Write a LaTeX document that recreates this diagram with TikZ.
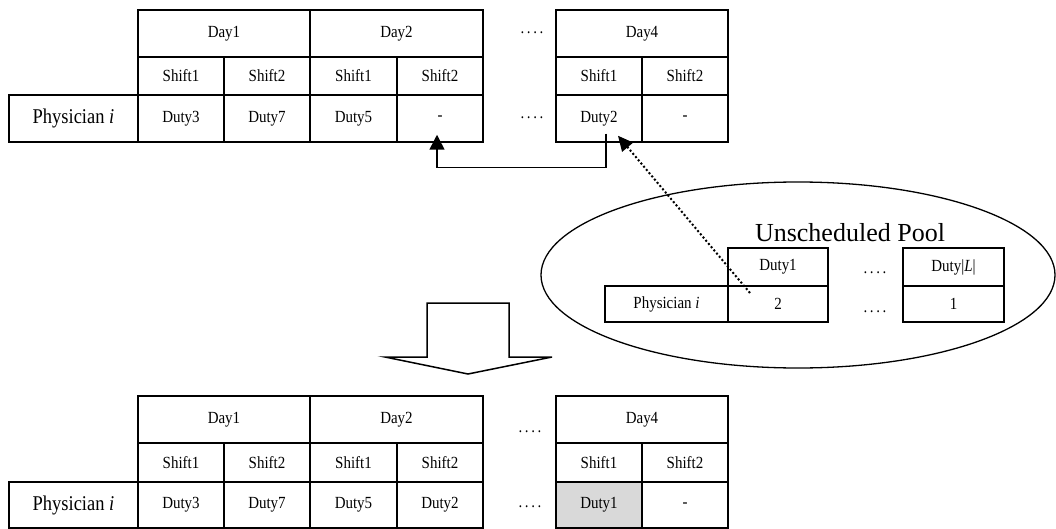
\documentclass[tikz,border=0pt]{standalone}
\usepackage{fontspec}
\setmainfont{Liberation Serif}
\newfontfamily\tabfont[FakeStretch=0.88]{Liberation Serif}
\usetikzlibrary{arrows.meta,calc}
\newcommand\smallf{\tabfont\fontsize{17}{20}\selectfont}
\newcommand\bigf{\tabfont\fontsize{21}{24}\selectfont}
\newcommand\fourdots{.\kern2.6pt.\kern2.6pt.\kern2.6pt.}
\begin{document}
\begin{tikzpicture}[x=1pt,y=-1pt,
  cell/.style={draw,line width=1.5pt,inner sep=0pt,font=\smallf},
  phys/.style={cell,font=\bigf,minimum width=129,minimum height=47},
  dayc/.style={cell,minimum width=172,minimum height=47},
  shiftc/.style={cell,minimum width=86,minimum height=38},
  dutyc/.style={cell,minimum width=86,minimum height=47},
  dots/.style={inner sep=0pt,font=\smallf},
  pcell/.style={cell,minimum width=100,minimum height=36},
  arr/.style={line width=1.5pt,-{Triangle[width=15pt,length=15pt]}},
  dotarr/.style={line width=2pt,dash pattern=on 2pt off 2.2pt,-{Triangle[width=14pt,length=15pt]}}
]
\useasboundingbox (0,0) rectangle (1056,529);

% ---------- top table ----------
\node[phys] (tph) at (73.5,118.5) {Physician \textit{i}};
\node[dayc] (td1) at (224,33.5) {Day1};
\node[dayc,minimum width=173] (td2) at (396.5,33.5) {Day2};
\node[dayc] (td4) at (642,33.5) {Day4};
\node[shiftc] (ts1) at (181,76) {Shift1};
\node[shiftc] (ts2) at (267,76) {Shift2};
\node[shiftc,minimum width=87] (ts3) at (353.5,76) {Shift1};
\node[shiftc] (ts4) at (440,76) {Shift2};
\node[shiftc] (ts7) at (599,76) {Shift1};
\node[shiftc] (ts8) at (685,76) {Shift2};
\node[dutyc] (tv1) at (181,118.5) {Duty3};
\node[dutyc] (tv2) at (267,118.5) {Duty7};
\node[dutyc,minimum width=87] (tv3) at (353.5,118.5) {Duty5};
\node[dutyc] (tv4) at (440,118.5) {-};
\node[dutyc] (tv7) at (599,118.5) {Duty2};
\node[dutyc] (tv8) at (685,118.5) {-};
\node[dots] (tdotsa) at (532,33) {\fourdots};
\node[dots] (tdotsb) at (532,118) {\fourdots};

% ---------- bottom table ----------
\node[phys,minimum height=46] (bph) at (73.5,505) {Physician \textit{i}};
\node[dayc] (bd1) at (224,419.5) {Day1};
\node[dayc,minimum width=173] (bd2) at (396.5,419.5) {Day2};
\node[dayc] (bd4) at (642,419.5) {Day4};
\node[shiftc,minimum height=39] (bs1) at (181,462.5) {Shift1};
\node[shiftc,minimum height=39] (bs2) at (267,462.5) {Shift2};
\node[shiftc,minimum height=39,minimum width=87] (bs3) at (353.5,462.5) {Shift1};
\node[shiftc,minimum height=39] (bs4) at (440,462.5) {Shift2};
\node[shiftc,minimum height=39] (bs7) at (599,462.5) {Shift1};
\node[shiftc,minimum height=39] (bs8) at (685,462.5) {Shift2};
\node[dutyc,minimum height=46] (bv1) at (181,505) {Duty3};
\node[dutyc,minimum height=46] (bv2) at (267,505) {Duty7};
\node[dutyc,minimum height=46,minimum width=87] (bv3) at (353.5,505) {Duty5};
\node[dutyc,minimum height=46] (bv4) at (440,505) {Duty2};
\node[dutyc,minimum height=46,fill={rgb,255:red,217;green,217;blue,217}] (bv7) at (599,505) {Duty1};
\node[dutyc,minimum height=46] (bv8) at (685,505) {-};
\node[dots] (bdotsa) at (530,432) {\fourdots};
\node[dots] (bdotsb) at (530,507) {\fourdots};

% ---------- unscheduled pool ----------
\draw[line width=1.3pt] (798,275) ellipse [x radius=257, y radius=93];
\node[inner sep=0pt,font=\fontsize{26}{30}\selectfont] (ptitle) at (850,233) {Unscheduled Pool};
\node[pcell,minimum width=123] (pph) at (666.5,304) {Physician \textit{i}};
\node[pcell,minimum height=38] (ph1) at (778,267) {Duty1};
\node[pcell] (pv1) at (778,304) {2};
\node[pcell,minimum height=38,minimum width=101] (phL) at (953.5,267) {Duty|\textit{L}|};
\node[pcell,minimum width=101] (pvL) at (953.5,304) {1};
\node[dots] (pdotsa) at (875,273) {\fourdots};
\node[dots] (pdotsb) at (875,312) {\fourdots};

% ---------- connectors ----------
\draw[arr] ([xshift=7pt,yshift=9pt]tv7.south) -- ++(0,34) -| ([xshift=-3pt,yshift=8pt]tv4.south);
\draw[dotarr] ([xshift=-28pt,yshift=11pt]pv1.center) -- ([xshift=19pt,yshift=7pt]tv7.south);

% ---------- block arrow ----------
\draw[line width=1.5pt,line join=miter] (427,303) -- (509,303) -- (509,357) -- (552,357) -- (468,374) -- (385,357) -- (427,357) -- cycle;
\end{tikzpicture}
\end{document}
